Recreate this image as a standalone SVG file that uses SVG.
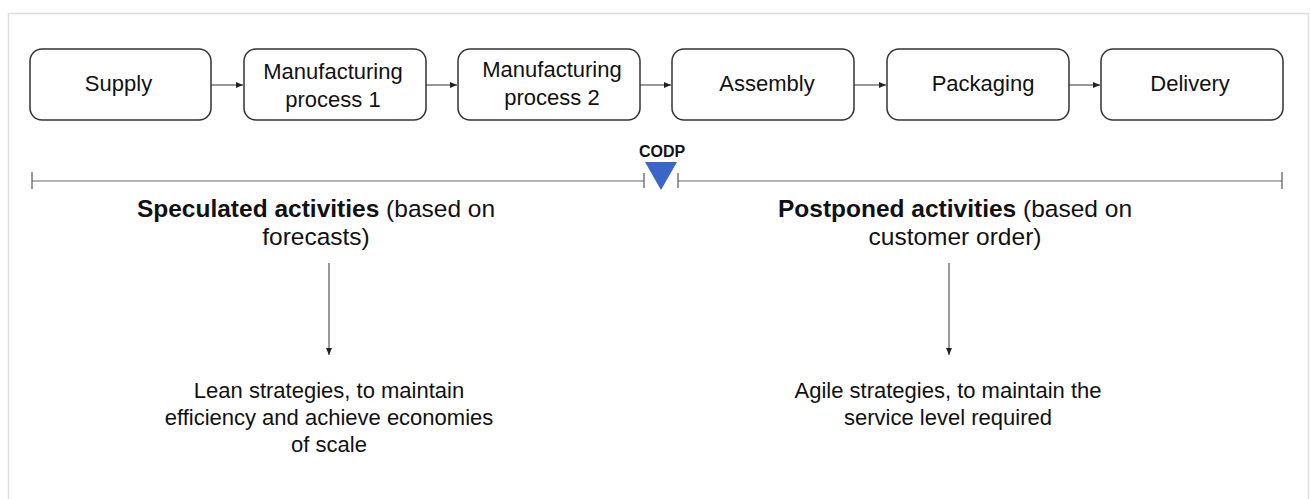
<svg xmlns="http://www.w3.org/2000/svg" width="1310" height="499" viewBox="0 0 1310 499">
<style>
.box{fill:#fff;stroke:#333;stroke-width:1.5}
.t{font-family:"Liberation Sans",Arial,sans-serif;fill:#111;text-anchor:middle}
.bt{font-size:22px}
.hd{font-size:24.5px}
.bd{font-size:22px}
.con{stroke:#333;stroke-width:1;fill:none}
.tl{stroke:#999;stroke-width:1.5;fill:none}
.tick{stroke:#555;stroke-width:1.2}
</style>
<defs>
<marker id="ah" markerWidth="8" markerHeight="8" refX="7" refY="4" orient="auto" markerUnits="userSpaceOnUse">
<path d="M0,1 L7,4 L0,7 Z" fill="#222"/>
</marker>
</defs>
<rect x="8.5" y="13.5" width="1300" height="500" fill="#fff" stroke="#ddd" stroke-width="1.5"/>
<g id="supply"><rect class="box" x="30" y="49" width="181" height="71" rx="12"/><text class="t bt" x="118.5" y="91">Supply</text></g>
<g id="mp1"><rect class="box" x="244" y="49" width="182" height="71" rx="12"/><text class="t bt" x="333" y="79">Manufacturing</text><text class="t bt" x="333" y="107">process 1</text></g>
<g id="mp2"><rect class="box" x="458" y="49" width="182" height="71" rx="12"/><text class="t bt" x="552" y="77">Manufacturing</text><text class="t bt" x="552" y="105">process 2</text></g>
<g id="assembly"><rect class="box" x="672" y="49" width="182" height="71" rx="12"/><text class="t bt" x="767" y="91">Assembly</text></g>
<g id="packaging"><rect class="box" x="887" y="49" width="182" height="71" rx="12"/><text class="t bt" x="983" y="91">Packaging</text></g>
<g id="delivery"><rect class="box" x="1101" y="49" width="182" height="71" rx="12"/><text class="t bt" x="1190" y="91">Delivery</text></g>
<g id="connectors">
<line class="con" x1="211" y1="85" x2="243" y2="85" marker-end="url(#ah)"/>
<line class="con" x1="426" y1="85" x2="457" y2="85" marker-end="url(#ah)"/>
<line class="con" x1="640" y1="85" x2="671" y2="85" marker-end="url(#ah)"/>
<line class="con" x1="854" y1="85" x2="886" y2="85" marker-end="url(#ah)"/>
<line class="con" x1="1069" y1="85" x2="1100" y2="85" marker-end="url(#ah)"/>
<line class="con" x1="329" y1="263" x2="329" y2="355" marker-end="url(#ah)"/>
<line class="con" x1="949" y1="263" x2="949" y2="355" marker-end="url(#ah)"/>
</g>
<g id="timeline">
<line class="tl" x1="32" y1="181" x2="644" y2="181"/>
<line class="tl" x1="678" y1="181" x2="1282" y2="181"/>
<line class="tick" x1="32" y1="172" x2="32" y2="189"/>
<line class="tick" x1="644" y1="173" x2="644" y2="188"/>
<line class="tick" x1="678" y1="173" x2="678" y2="188"/>
<line class="tick" x1="1282" y1="172" x2="1282" y2="189"/>
</g>
<g id="codp">
<polygon points="645,162 677,162 661,190" fill="#3a66c8"/>
<text class="t" x="662" y="157" font-size="16" font-weight="bold">CODP</text>
</g>
<g id="speculated">
<text class="t hd" x="316" y="217"><tspan font-weight="bold">Speculated activities</tspan> (based on</text>
<text class="t hd" x="316" y="245">forecasts)</text>
</g>
<g id="postponed">
<text class="t hd" x="955" y="217"><tspan font-weight="bold">Postponed activities</tspan> (based on</text>
<text class="t hd" x="955" y="245">customer order)</text>
</g>
<g id="lean">
<text class="t bd" x="329" y="398">Lean strategies, to maintain</text>
<text class="t bd" x="329" y="425">efficiency and achieve economies</text>
<text class="t bd" x="329" y="452">of scale</text>
</g>
<g id="agile">
<text class="t bd" x="948" y="398">Agile strategies, to maintain the</text>
<text class="t bd" x="948" y="425">service level required</text>
</g>
</svg>
